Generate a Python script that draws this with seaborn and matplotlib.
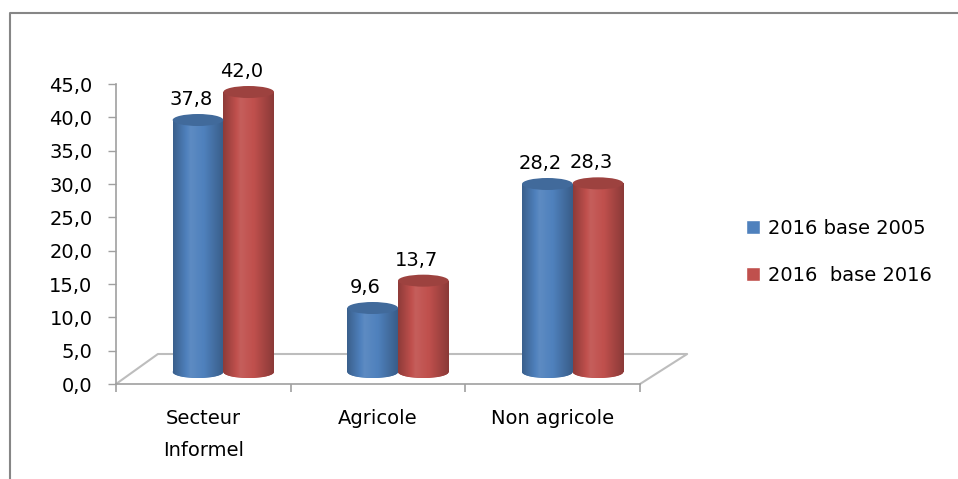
import numpy as np
import pandas as pd
import seaborn as sns
import matplotlib
matplotlib.use("Agg")
import matplotlib.pyplot as plt
from matplotlib.patches import Ellipse
from matplotlib.transforms import ScaledTranslation
from matplotlib.lines import Line2D
from matplotlib.colors import to_rgb

# ---- data ----
categories = ["Secteur\nInformel", "Agricole", "Non agricole"]
series_names = ["2016 base 2005", "2016  base 2016"]
base_2005 = [37.8, 9.6, 28.2]
base_2016 = [42.0, 13.7, 28.3]
y_ticks = [0, 5, 10, 15, 20, 25, 30, 35, 40, 45]
colors = ["#4F81BD", "#C0504D"]

df = pd.DataFrame({
    "cat": categories * 2,
    "series": [series_names[0]] * 3 + [series_names[1]] * 3,
    "value": base_2005 + base_2016,
})

sns.set_theme(style="white")
plt.rcParams["font.family"] = ["DejaVu Sans"]
FS = 14
GRAY = "#A0A0A0"

fig = plt.figure(figsize=(9.58, 4.79), dpi=100)
ax = fig.add_axes([116 / 958, 1 - 384 / 479, 524 / 958, 300 / 479])

sns.barplot(data=df, x="cat", y="value", hue="series", palette=colors,
            width=0.58, saturation=1, ax=ax, legend=True)

# depth offset of the pseudo-3D cylinders
depth = ax.transData + ScaledTranslation(0.20, 0.12, fig.dpi_scale_trans)

cap_h = 1.8  # ellipse height in data units


def shade(c, f):
    r = np.array(to_rgb(c))
    if f >= 1:
        return tuple(np.clip(r + (1 - r) * (f - 1), 0, 1))
    return tuple(np.clip(r * f, 0, 1))


for cont, col in zip(ax.containers, colors):
    prof = np.concatenate([np.linspace(0.74, 1.08, 35), np.linspace(1.08, 1.0, 25),
                           np.linspace(1.0, 0.72, 40)])
    grad = np.array([[shade(col, f) for f in prof]])
    for bar in cont:
        x, w, h = bar.get_x(), bar.get_width(), bar.get_height()
        bar.set_transform(depth)
        bar.set_edgecolor("none")
        bar.set_zorder(2)
        eb = Ellipse((x + w / 2, 0), w, cap_h, transform=depth,
                     facecolor=shade(col, 0.92), edgecolor="none", zorder=1.9)
        ax.add_patch(eb)
        im = ax.imshow(grad, extent=[x, x + w, 0, h], aspect="auto",
                       transform=depth, zorder=2.1, interpolation="bilinear")
        im.set_clip_path(bar)
        eb2 = Ellipse((x + w / 2, 0), w, cap_h, transform=depth,
                      facecolor="none", edgecolor="none", zorder=2.05)
        ax.add_patch(eb2)
        im2 = ax.imshow(grad, extent=[x, x + w, -cap_h / 2, 0], aspect="auto",
                        transform=depth, zorder=2.05, interpolation="bilinear")
        im2.set_clip_path(eb2)
        et = Ellipse((x + w / 2, h), w, cap_h, transform=depth,
                     facecolor=shade(col, 0.82), edgecolor="none", zorder=2.3)
        ax.add_patch(et)
        ax.annotate(f"{h:.1f}".replace(".", ","), xy=(x + w / 2, h), xycoords=depth,
                    xytext=(-7, 11), textcoords="offset pixels",
                    ha="center", va="bottom", fontsize=FS, color="black")

ax.set_xlim(-0.5, 2.5)
ax.set_ylim(0, 45)
ax.set_yticks(y_ticks)
ax.set_yticklabels([f"{v:.1f}".replace(".", ",") for v in y_ticks], fontsize=FS)
ax.set_xticks(range(len(categories)))
ax.set_xticklabels(categories, fontsize=FS)
for t in ax.get_xticklabels():
    t.set_linespacing(1.85)
ax.set_xticks([-0.5, 0.5, 1.5, 2.5], minor=True)
ax.set_xlabel("")
ax.set_ylabel("")

ax.tick_params(axis="y", left=True, length=6, width=1, color=GRAY, pad=11,
               labelcolor="black")
ax.tick_params(axis="x", which="major", bottom=False, length=0, pad=18,
               labelcolor="black")
ax.tick_params(axis="x", which="minor", bottom=True, length=6, width=1.2,
               color=GRAY, direction="out")

for s in ["top", "right"]:
    ax.spines[s].set_visible(False)
for s in ["left", "bottom"]:
    ax.spines[s].set_color(GRAY)
    ax.spines[s].set_linewidth(1.2)

# floor of the pseudo-3D plot
floor_x = [0.0, 0.080, 1.090, 1.0]
floor_y = [0.0, 0.10, 0.10, 0.0]
ax.add_line(Line2D(floor_x, floor_y, transform=ax.transAxes, color="#BDBDBD",
                   lw=1.5, clip_on=False, zorder=0.5))

# legend
handles, labels = ax.get_legend_handles_labels()
ax.legend(handles, labels, loc="center left", bbox_to_anchor=(746 / 958, 1 - 252 / 479),
          bbox_transform=fig.transFigure, frameon=False, fontsize=FS,
          handlelength=0.72, handleheight=0.72, handletextpad=0.4,
          labelspacing=1.45, borderpad=0, borderaxespad=0, labelcolor="black")

# outer chart frame
fig.add_artist(Line2D([10 / 958, 10 / 958, 1.0], [0.0, 1 - 13 / 479, 1 - 13 / 479],
                      transform=fig.transFigure, color="#868686", lw=1.5))

fig.savefig("out.png", dpi=100)
